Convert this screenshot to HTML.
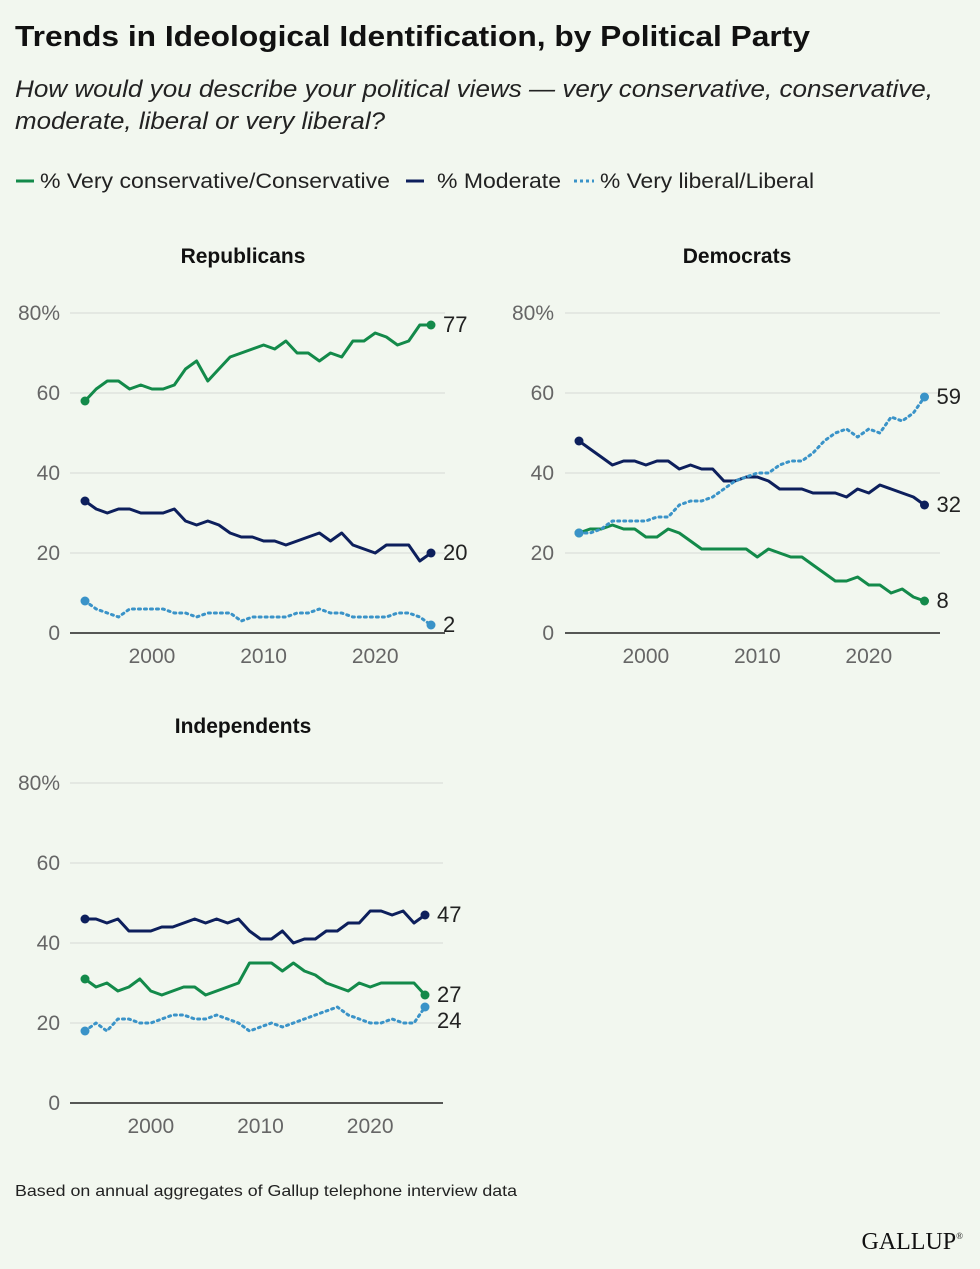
<!DOCTYPE html>
<html><head><meta charset="utf-8"><style>
body{margin:0;background:#f2f7ef;font-family:"Liberation Sans",sans-serif;}
#wrap{position:relative;width:980px;height:1269px;overflow:hidden;background:#f2f7ef;}
</style></head><body>
<div id="wrap">
<svg id="svg" width="980" height="1269" xmlns="http://www.w3.org/2000/svg">
<text x="15" y="46" font-size="29" font-weight="bold" fill="#111" textLength="795" lengthAdjust="spacingAndGlyphs">Trends in Ideological Identification, by Political Party</text>
<text x="15" y="97" font-size="24" font-style="italic" fill="#222" textLength="918" lengthAdjust="spacingAndGlyphs">How would you describe your political views — very conservative, conservative,</text>
<text x="15" y="129" font-size="24" font-style="italic" fill="#222" textLength="370" lengthAdjust="spacingAndGlyphs">moderate, liberal or very liberal?</text>
<g>
<line x1="16" y1="181" x2="34" y2="181" stroke="#138a4a" stroke-width="3"/>
<text x="40" y="188" font-size="21" fill="#222" textLength="350" lengthAdjust="spacingAndGlyphs">% Very conservative/Conservative</text>
<line x1="406" y1="181" x2="424" y2="181" stroke="#0d1f5c" stroke-width="3"/>
<text x="437" y="188" font-size="21" fill="#222" textLength="124" lengthAdjust="spacingAndGlyphs">% Moderate</text>
<line x1="574" y1="181" x2="594" y2="181" stroke="#3a93c8" stroke-width="3" stroke-dasharray="3,3"/>
<text x="600" y="188" font-size="21" fill="#222" textLength="214" lengthAdjust="spacingAndGlyphs">% Very liberal/Liberal</text>
</g>
<text x="15" y="1196" font-size="16" fill="#222" textLength="502" lengthAdjust="spacingAndGlyphs">Based on annual aggregates of Gallup telephone interview data</text>
<text x="963" y="1249" font-size="24" font-family="Liberation Serif,serif" text-anchor="end" fill="#111">GALLUP<tspan font-size="9" dy="-10">®</tspan></text>
</svg>
</div>
<script>
const years = [];
for (let y = 1994; y <= 2025; y++) years.push(y);
const yTicks = [0, 20, 40, 60, 80];
const xTicks = [2000, 2010, 2020];
const panelNames = ["Republicans", "Democrats", "Independents"];
const repCons = [58,61,63,63,61,62,61,61,62,66,68,63,66,69,70,71,72,71,73,70,70,68,70,69,73,73,75,74,72,73,77,77];
const repMod = [33,31,30,31,31,30,30,30,31,28,27,28,27,25,24,24,23,23,22,23,24,25,23,25,22,21,20,22,22,22,18,20];
const repLib = [8,6,5,4,6,6,6,6,5,5,4,5,5,5,3,4,4,4,4,5,5,6,5,5,4,4,4,4,5,5,4,2];
const demCons = [25,26,26,27,26,26,24,24,26,25,23,21,21,21,21,21,19,21,20,19,19,17,15,13,13,14,12,12,10,11,9,8];
const demMod = [48,46,44,42,43,43,42,43,43,41,42,41,41,38,38,39,39,38,36,36,36,35,35,35,34,36,35,37,36,35,34,32];
const demLib = [25,25,26,28,28,28,28,29,29,32,33,33,34,36,38,39,40,40,42,43,43,45,48,50,51,49,51,50,54,53,55,59];
const indCons = [31,29,30,28,29,31,28,27,28,29,29,27,28,29,30,35,35,35,33,35,33,32,30,29,28,30,29,30,30,30,30,27];
const indMod = [46,46,45,46,43,43,43,44,44,45,46,45,46,45,46,43,41,41,43,40,41,41,43,43,45,45,48,48,47,48,45,47];
const indLib = [18,20,18,21,21,20,20,21,22,22,21,21,22,21,20,18,19,20,19,20,21,22,23,24,22,21,20,20,21,20,20,24];

const NS = "http://www.w3.org/2000/svg";
const svg = document.getElementById("svg");
function mk(tag, attrs, parent) {
  const e = document.createElementNS(NS, tag);
  for (const k in attrs) e.setAttribute(k, attrs[k]);
  (parent || svg).appendChild(e);
  return e;
}
const panels = [
  {title: panelNames[0], tx: 243, ty: 263, gx0: 70, gx1: 445, lx: 60, x0: 85, x1: 431, y0: 633, y80: 313, series: [repCons, repMod, repLib]},
  {title: panelNames[1], tx: 737, ty: 263, gx0: 565, gx1: 940, lx: 554, x0: 579, x1: 924.5, y0: 633, y80: 313, series: [demCons, demMod, demLib]},
  {title: panelNames[2], tx: 243, ty: 733, gx0: 70, gx1: 443, lx: 60, x0: 85, x1: 425, y0: 1103, y80: 783, series: [indCons, indMod, indLib]}
];
const colors = ["#138a4a", "#0d1f5c", "#3a93c8"];
const sNames = ["conservative", "moderate", "liberal"];
panels.forEach(p => {
  const key = p.title.toLowerCase();
  const g = mk("g", {});
  
  
  const xs = y => p.x0 + (y - 1994) / (2025 - 1994) * (p.x1 - p.x0);
  const ys = v => p.y0 + v / 80 * (p.y80 - p.y0);
  const t = mk("text", {x: p.tx, y: p.ty, "font-size": 21, "font-weight": "bold", "text-anchor": "middle", fill: "#111"}, g);
  t.textContent = p.title;
  
  
  yTicks.forEach(v => {
    const l = mk("line", {x1: p.gx0, x2: p.gx1, y1: ys(v), y2: ys(v), stroke: v === 0 ? "#222" : "#d6d9d4", "stroke-width": v === 0 ? 1.5 : 1}, g);
    
    
    const tl = mk("text", {x: p.lx, y: ys(v) + 7, "font-size": 21, "text-anchor": "end", fill: "#666"}, g);
    tl.textContent = v === 80 ? "80%" : String(v);
    
    
  });
  xTicks.forEach(yr => {
    const tl = mk("text", {x: xs(yr), y: p.y0 + 30, "font-size": 21, "text-anchor": "middle", fill: "#666"}, g);
    tl.textContent = yr;
    
    
  });
  p.series.forEach((vals, i) => {
    const d = vals.map((v, j) => (j ? "L" : "M") + xs(years[j]).toFixed(1) + "," + ys(v).toFixed(1)).join(" ");
    const attrs = {d: d, fill: "none", stroke: colors[i], "stroke-width": 3, "stroke-linejoin": "round"};
    if (i === 2) { attrs["stroke-dasharray"] = "2,4"; attrs["stroke-linecap"] = "round"; }
    const path = mk("path", attrs, g);
    
    
    [0, vals.length - 1].forEach(j => {
      const c = mk("circle", {cx: xs(years[j]), cy: ys(vals[j]), r: 4.5, fill: colors[i]}, g);
      
      
    });
  });
  const last = p.series.map((v, i) => ({i: i, v: v[v.length - 1], y: ys(v[v.length - 1]) + 7}));
  last.sort((a, b) => a.y - b.y);
  for (let k = 1; k < last.length; k++) if (last[k].y - last[k - 1].y < 26) last[k].y = last[k - 1].y + 26;
  last.forEach(o => {
    const tl = mk("text", {x: p.x1 + 12, y: o.y, "font-size": 22, fill: "#222"}, g);
    tl.textContent = o.v;
    
    
  });
});
</script>
</body></html>
